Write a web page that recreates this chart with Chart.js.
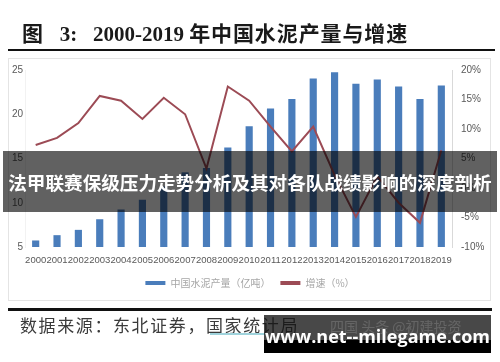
<!DOCTYPE html>
<html><head><meta charset="utf-8">
<script src="https://cdn.jsdelivr.net/npm/chart.js@4.4.1/dist/chart.umd.min.js"></script>
<style>
html,body{margin:0;padding:0;background:#fff;width:500px;height:362px;overflow:hidden;position:relative}
#wrap{position:absolute;left:0;top:0;width:500px;height:362px}
#c{position:absolute;left:0;top:0}
.abs{position:absolute;white-space:nowrap}
#title{left:22px;top:19px;font-size:21px;font-weight:700;color:#1a1a1a;font-family:"Liberation Serif","Noto Sans CJK SC",serif;line-height:26px}
#title .cj{font-family:"Noto Sans CJK SC",sans-serif;font-weight:700;letter-spacing:0.9px}
#rule1{left:8px;top:49px;width:487px;height:2px;background:#111}
#frame{left:8px;top:58px;width:481px;height:241px;border:1px solid #e4e4e4}
#rule2{left:8px;top:308px;width:484px;height:3px;background:#111}
#src{left:20px;top:313px;font-size:17px;color:#3a3a3a;font-family:"Noto Sans CJK SC",serif;letter-spacing:1.6px;line-height:24px}
#uline{left:210px;top:333px;width:56px;height:2px;background:#9fd3dc}
#banner{left:3px;top:151px;width:494px;height:61px;background:rgba(0,0,0,0.62);color:#fff;font-family:"Noto Sans CJK SC",sans-serif;font-weight:700;font-size:18.6px;line-height:61px;text-align:center;letter-spacing:0px}
#wm{left:264px;top:315px;width:227px;height:38px;background:rgba(20,20,20,0.78)}
#wmlow{left:264px;top:340px;width:227px;height:13px;background:#000}
#wmbg{left:330px;top:316px;font-size:14px;color:rgba(255,255,255,0.16);font-family:"Noto Sans CJK SC",sans-serif}
#wmtxt{left:264px;top:322px;width:227px;text-align:center;color:#fff;font-family:"Open Sans","Noto Sans",sans-serif;font-weight:700;font-size:18px;line-height:28px}
</style></head><body>
<div id="wrap">
<canvas id="c" width="500" height="362"></canvas>
<div class="abs" id="title"><span class="cj">图</span>&nbsp;&nbsp; 3:&nbsp;&nbsp; 2000-2019 <span class="cj">年中国水泥产量与增速</span></div>
<div class="abs" id="rule1"></div>
<div class="abs" id="frame"></div>
<div class="abs" id="banner">法甲联赛保级压力走势分析及其对各队战绩影响的深度剖析</div>
<div class="abs" id="rule2"></div>
<div class="abs" id="src">数据来源：东北证券，国家统计局</div>
<div class="abs" id="uline"></div>
<div class="abs" id="wm"></div>
<div class="abs" id="wmlow"></div>
<div class="abs" id="wmbg">四国 头条 @初建投资</div>
<div class="abs" id="wmtxt">www.net--milegame.com</div>
</div>
<script>
const years = ['2000','2001','2002','2003','2004','2005','2006','2007','2008','2009','2010','2011','2012','2013','2014','2015','2016','2017','2018','2019'];
const cementOutput = [5.7,6.3,6.9,8.1,9.2,10.3,11.8,13.4,13.9,16.2,18.6,20.6,21.7,24.0,24.7,23.4,23.9,23.1,21.7,23.2];
const growthRate = [7.3,8.5,11.0,15.6,14.8,11.7,15.3,12.5,3.3,17.2,14.8,10.4,6.2,10.4,2.2,-4.9,2.0,-2.5,-5.9,6.4];
const seriesNames = ['中国水泥产量（亿吨）','增速（%）'];

const tickFont = {family:'"Liberation Sans", Arial, sans-serif', size:10};
new Chart(document.getElementById('c'), {
  data: {
    labels: years,
    datasets: [
      {type:'bar', label: seriesNames[0], data: cementOutput, yAxisID:'y', backgroundColor:'#4a7dbb', barThickness:6.5, order:1},
      {type:'line', label: seriesNames[1], data: growthRate, yAxisID:'y1', borderColor:'#9c4b55', backgroundColor:'#9c4b55', borderWidth:2, pointRadius:0, tension:0, order:0}
    ]
  },
  options: {
    responsive:false, animation:false,
    layout:{padding:{top:70,left:0,right:0,bottom:64}},
    plugins:{
      tooltip:{enabled:false},
      legend:{
        position:'bottom',
        labels:{
          font:{family:'"Noto Sans CJK SC", sans-serif', size:10},
          color:'#a6a6a6', boxWidth:20, boxHeight:4, padding:10,
          sort:(a,b)=>a.datasetIndex-b.datasetIndex,
          generateLabels:(chart)=>chart.data.datasets.map((d,i)=>({
            text:d.label, fillStyle:d.type==='line'?d.borderColor:d.backgroundColor,
            strokeStyle:'rgba(0,0,0,0)', lineWidth:0, datasetIndex:i, hidden:false, fontColor:'#a6a6a6'
          }))
        }
      }
    },
    scales:{
      x:{
        grid:{display:false, drawTicks:false},
        border:{display:false},
        ticks:{font:{family:'"Liberation Sans", Arial, sans-serif', size:9.5}, color:'#595959', autoSkip:false, maxRotation:0, minRotation:0, padding:8},
        afterFit:(s)=>{s.height=21;}
      },
      y:{
        position:'left', min:5, max:25,
        grid:{display:false, drawTicks:false},
        border:{display:true, color:'#f2f2f2'},
        ticks:{stepSize:5, font:tickFont, color:'#595959', padding:2},
        afterFit:(s)=>{s.width=25;}
      },
      y1:{
        position:'right', min:-10, max:20,
        grid:{display:false, drawTicks:false},
        border:{display:true, color:'#d9d9d9'},
        ticks:{stepSize:5, font:tickFont, color:'#595959', padding:9, callback:(v)=>v+'%'},
        afterFit:(s)=>{s.width=48;}
      }
    }
  }
});
</script>
</body></html>
